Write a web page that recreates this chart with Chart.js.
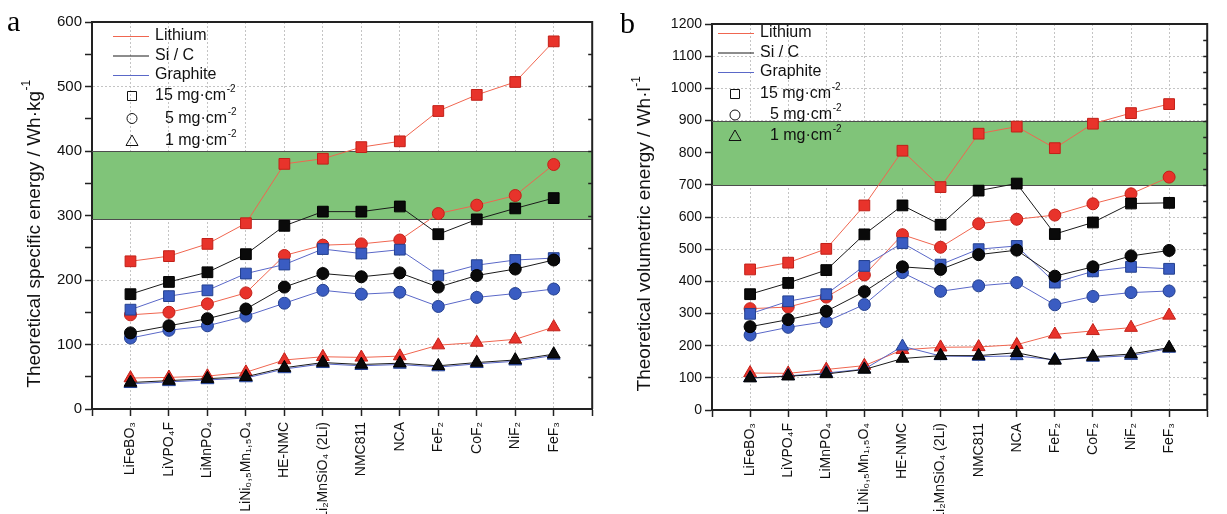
<!DOCTYPE html>
<html>
<head>
  <title>Theoretical energy of cathode materials</title>
  <script src="https://cdn.jsdelivr.net/npm/chart.js@4/dist/chart.umd.min.js"></script>
  <style>
    body { margin: 0; width: 1227px; height: 514px; overflow: hidden; background: #fff; position: relative; }
    .panel { position: absolute; top: 0; }
    #wrapA { left: 0; }
    #wrapB { left: 612px; }
  </style>
</head>
<body>
  <div class="panel" id="wrapA"><canvas id="chartA" width="615" height="514"></canvas></div>
  <div class="panel" id="wrapB"><canvas id="chartB" width="618" height="514"></canvas></div>
  <script>
    var cathodes = ['LiFeBO₃', 'LiVPO₄F', 'LiMnPO₄', 'LiNi₀,₅Mn₁,₅O₄', 'HE-NMC', 'Li₂MnSiO₄ (2Li)',
                    'NMC811', 'NCA', 'FeF₂', 'CoF₂', 'NiF₂', 'FeF₃'];
    var anodes = ['Lithium', 'Si / C', 'Graphite'];
    var loadings = ['15', '5', '1'];

    // specific energy, Wh/kg
    var spLi15 = [229, 237, 256, 288, 380, 388, 406, 415, 462, 487, 507, 570];
    var spLi5  = [146, 150, 163, 180, 238, 254, 256, 262, 303, 316, 331, 379];
    var spLi1  = [48, 49, 51, 57, 76, 81, 80, 82, 99, 103, 108, 127];
    var spSi15 = [178, 197, 212, 240, 284, 306, 306, 314, 271, 294, 311, 327];
    var spSi5  = [118, 129, 140, 155, 189, 210, 205, 211, 189, 207, 217, 231];
    var spSi1  = [41, 44, 47, 50, 64, 72, 69, 71, 67, 72, 76, 85];
    var spGr15 = [154, 175, 184, 210, 224, 248, 241, 247, 207, 223, 231, 234];
    var spGr5  = [110, 122, 129, 144, 164, 184, 178, 181, 159, 173, 179, 186];
    var spGr1  = [39, 42, 45, 48, 62, 70, 67, 69, 65, 70, 74, 83];
    var spTarget = [295, 400];

    // volumetric energy, Wh/l
    var vlLi15 = [437, 458, 501, 636, 806, 693, 859, 881, 814, 890, 923, 951];
    var vlLi5  = [315, 320, 351, 420, 545, 506, 579, 593, 606, 641, 672, 724];
    var vlLi1  = [115, 114, 126, 138, 187, 195, 196, 203, 235, 246, 256, 294];
    var vlSi15 = [360, 395, 435, 546, 636, 576, 682, 704, 547, 583, 642, 644];
    var vlSi5  = [259, 281, 307, 368, 445, 437, 483, 497, 416, 445, 479, 496];
    var vlSi1  = [99, 105, 112, 126, 160, 169, 169, 178, 154, 166, 174, 194];
    var vlGr15 = [299, 338, 360, 448, 519, 452, 500, 510, 396, 431, 445, 439];
    var vlGr5  = [233, 257, 275, 328, 427, 369, 386, 396, 327, 353, 365, 370];
    var vlGr1  = [100, 106, 115, 127, 198, 168, 166, 168, 156, 163, 169, 191];
    var vlTarget = [700, 900];

    var FONT = '"Liberation Sans", Arial, sans-serif';
    var lineCol = ['#f06650', '#1a1a1a', '#5a68c8'];
    var fillCol = ['#e8332b', '#0a0a0a', '#3a5cc2'];
    var edgeCol = ['#c22018', '#000000', '#24408f'];
    var shapes = { '15': ['rect', 7.6], '5': ['circle', 6], '1': ['triangle', 7.4] };

    function series(values, anode, load) {
      var k = anodes.indexOf(anode);
      return {
        label: anode + ' ' + load,
        data: values.map(function (v, i) { return { x: i, y: v }; }),
        borderColor: lineCol[k],
        borderWidth: 1,
        pointStyle: shapes[load][0],
        pointRadius: shapes[load][1],
        pointBackgroundColor: fillCol[k],
        pointBorderColor: edgeCol[k],
        pointBorderWidth: 1,
        // Si/C drawn on top, lithium at the bottom
        order: k === 1 ? 0 : (k === 2 ? 1 : 2)
      };
    }

    function supText(ctx, main, sup, x, y, size, align) {
      ctx.font = size + 'px ' + FONT;
      var w1 = ctx.measureText(main).width;
      ctx.font = Math.round(size * 0.62) + 'px ' + FONT;
      var w2 = ctx.measureText(sup).width;
      var x0 = align === 'center' ? x - (w1 + w2) / 2 : x;
      ctx.textAlign = 'left';
      ctx.textBaseline = 'middle';
      ctx.font = size + 'px ' + FONT;
      ctx.fillText(main, x0, y);
      ctx.font = Math.round(size * 0.62) + 'px ' + FONT;
      ctx.fillText(sup, x0 + w1 + 0.5, y - size * 0.42);
    }

    function marker(ctx, shape, x, y) {
      ctx.beginPath();
      if (shape === 'rect') {
        ctx.rect(x - 4.5, y - 4.5, 9, 9);
      } else if (shape === 'circle') {
        ctx.arc(x, y, 5, 0, Math.PI * 2);
      } else {
        ctx.moveTo(x, y - 6);
        ctx.lineTo(x + 6, y + 4.5);
        ctx.lineTo(x - 6, y + 4.5);
        ctx.closePath();
      }
      ctx.stroke();
    }

    var decor = {
      id: 'decor',
      beforeDatasetsDraw: function (chart, args, o) {
        var ctx = chart.ctx, a = chart.chartArea, ys = chart.scales.y;
        var top = Math.round(ys.getPixelForValue(o.band[1]));
        var bot = Math.round(ys.getPixelForValue(o.band[0]));
        ctx.save();
        ctx.fillStyle = '#80c479';
        ctx.fillRect(a.left + 1, top, a.right - a.left - 1, bot - top);
        ctx.strokeStyle = '#4d4d4d';
        ctx.lineWidth = 1;
        ctx.beginPath();
        ctx.moveTo(a.left, top + 0.5); ctx.lineTo(a.right, top + 0.5);
        ctx.moveTo(a.left, bot + 0.5); ctx.lineTo(a.right, bot + 0.5);
        ctx.stroke();
        ctx.restore();
      },
      afterDraw: function (chart, args, o) {
        var ctx = chart.ctx, a = chart.chartArea, ys = chart.scales.y;
        ctx.save();
        // frame: top and right edges with inward ticks
        ctx.strokeStyle = '#222';
        ctx.lineWidth = 2;
        ctx.beginPath();
        ctx.moveTo(a.left, a.top); ctx.lineTo(a.right, a.top); ctx.lineTo(a.right, a.bottom);
        ctx.stroke();
        ctx.lineWidth = 1.5;
        ctx.beginPath();
        for (var v = ys.min + 50; v < ys.max; v += 50) {
          var py = Math.round(ys.getPixelForValue(v)) + 0.5;
          ctx.moveTo(a.right, py); ctx.lineTo(a.right - 4, py);
        }
        ctx.stroke();

        // legend
        ctx.fillStyle = '#111';
        ctx.lineWidth = 1;
        anodes.forEach(function (name, i) {
          var y = o.legY + i * o.legGap;
          ctx.strokeStyle = lineCol[i];
          ctx.beginPath();
          ctx.moveTo(o.legX, y + 0.5); ctx.lineTo(o.legX + 36, y + 0.5);
          ctx.stroke();
          ctx.font = '16px ' + FONT;
          ctx.textAlign = 'left';
          ctx.textBaseline = 'middle';
          ctx.fillText(name, o.legX + 42, y);
        });
        ctx.strokeStyle = '#111';
        loadings.forEach(function (load, j) {
          var y = o.mkY + j * o.mkGap;
          marker(ctx, shapes[load][0], o.mkX, y);
          ctx.font = '16px ' + FONT;
          var numEnd = o.legX + 42 + ctx.measureText('15').width + (j === 0 ? 0 : 1);
          ctx.textAlign = 'right';
          ctx.textBaseline = 'middle';
          ctx.fillText(load, numEnd, y);
          supText(ctx, ' mg·cm', '-2', numEnd, y, 16, 'left');
        });

        // y axis title
        ctx.save();
        ctx.translate(o.titleX, o.titleY);
        ctx.rotate(-Math.PI / 2);
        ctx.fillStyle = '#111';
        supText(ctx, o.title, '-1', 0, 0, 19, 'center');
        ctx.restore();

        // panel letter
        ctx.fillStyle = '#000';
        ctx.font = '30px "Liberation Serif", "Times New Roman", serif';
        ctx.textAlign = 'left';
        ctx.textBaseline = 'alphabetic';
        ctx.fillText(o.letter, o.letterX, o.letterY);
        ctx.restore();
      }
    };

    function makeChart(id, sets, yMax, tickSize, pad, axisW, axisH, deco) {
      return new Chart(document.getElementById(id), {
        type: 'line',
        data: { datasets: sets },
        plugins: [decor],
        options: {
          responsive: false,
          animation: false,
          events: [],
          layout: { padding: pad },
          plugins: { legend: { display: false }, tooltip: { enabled: false }, decor: deco },
          scales: {
            x: {
              type: 'linear', min: -1, max: 12,
              afterFit: function (s) { s.height = axisH; },
              ticks: {
                stepSize: 1, autoSkip: false, maxRotation: 90, minRotation: 90,
                padding: 6, color: '#111', font: { family: FONT, size: 14 },
                callback: function (v) {
                  return (v >= 0 && v < cathodes.length && v % 1 === 0) ? cathodes[v] : '';
                }
              },
              grid: {
                color: function (c) {
                  var v = c.tick ? c.tick.value : -1;
                  return (v >= 0 && v < cathodes.length) ? '#c4c4c4' : 'rgba(0,0,0,0)';
                },
                lineWidth: 1, tickLength: 7, tickWidth: 1.5, tickColor: '#222'
              },
              border: { color: '#222', width: 2, dash: [2, 2] }
            },
            y: {
              type: 'linear', min: 0, max: yMax,
              afterFit: function (s) { s.width = axisW; },
              ticks: {
                stepSize: 50, padding: 3, color: '#111', font: { family: FONT, size: tickSize },
                callback: function (v) { return v % 100 === 0 ? v : ''; }
              },
              grid: {
                color: function (c) {
                  var v = c.tick ? c.tick.value : 0;
                  return (v % 100 === 0 && v > 0 && v < yMax) ? '#c4c4c4' : 'rgba(0,0,0,0)';
                },
                lineWidth: 1, tickLength: 7, tickWidth: 1.5, tickColor: '#222'
              },
              border: { color: '#222', width: 2, dash: [2, 2] }
            }
          }
        }
      });
    }

    makeChart('chartA', [
      series(spSi15, 'Si / C', '15'), series(spSi5, 'Si / C', '5'), series(spSi1, 'Si / C', '1'),
      series(spGr15, 'Graphite', '15'), series(spGr5, 'Graphite', '5'), series(spGr1, 'Graphite', '1'),
      series(spLi15, 'Lithium', '15'), series(spLi5, 'Lithium', '5'), series(spLi1, 'Lithium', '1')
    ], 600, 15, { top: 22, right: 3, left: 0, bottom: 0 }, 92, 105, {
      band: spTarget, title: 'Theoretical specific energy / Wh·kg', titleX: 35, titleY: 234,
      letter: 'a', letterX: 7, letterY: 31,
      legX: 113, legY: 36, legGap: 19.5, mkX: 132, mkY: 96, mkGap: 22.5
    });

    makeChart('chartB', [
      series(vlSi15, 'Si / C', '15'), series(vlSi5, 'Si / C', '5'), series(vlSi1, 'Si / C', '1'),
      series(vlGr15, 'Graphite', '15'), series(vlGr5, 'Graphite', '5'), series(vlGr1, 'Graphite', '1'),
      series(vlLi15, 'Lithium', '15'), series(vlLi5, 'Lithium', '5'), series(vlLi1, 'Lithium', '1')
    ], 1200, 14, { top: 24, right: 2, left: 0, bottom: 0 }, 100, 104, {
      band: vlTarget, title: 'Theoretical volumetric energy / Wh·l', titleX: 33, titleY: 234,
      letter: 'b', letterX: 8, letterY: 33,
      legX: 106, legY: 33, legGap: 19.5, mkX: 123, mkY: 94, mkGap: 21
    });
  </script>
</body>
</html>
